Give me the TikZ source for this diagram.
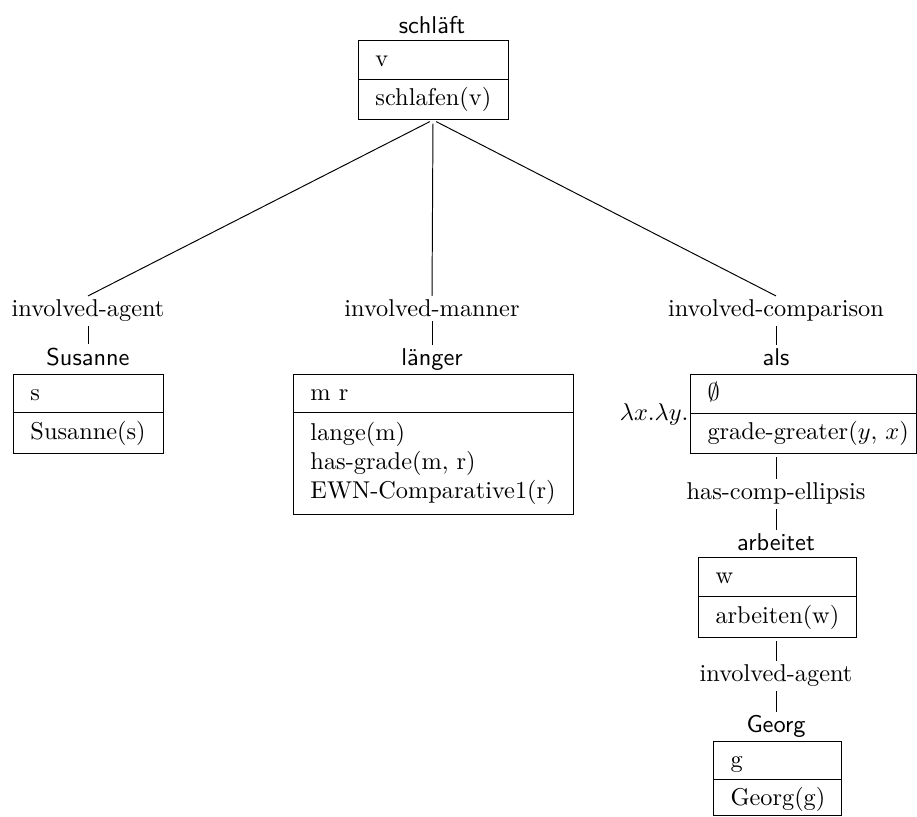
\documentclass[tikz,border=0pt]{standalone}
\usetikzlibrary{fit}
\begin{document}
\begin{tikzpicture}[x=0.411pt,y=-0.411pt,
  lab/.style={font=\sffamily, anchor=base, inner xsep=0pt, inner ysep=1.5pt, yshift=-0.8pt},
  rel/.style={anchor=base, inner xsep=0pt, inner ysep=1.5pt, yshift=-0.8pt},
  box/.style={draw, inner sep=0pt},
  txt/.style={anchor=base west, inner sep=0pt, yshift=-0.8pt},
  conn/.style={line width=0.4pt},
  fromBox/.style={conn, shorten <=1.5pt}]
\useasboundingbox (0,0) rectangle (917,816);

% --- schläft
\node[lab] (h1) at (432,32) {schläft};
\coordinate (b1a) at (358,40); \coordinate (b1b) at (508,119.5);
\node[box, fit=(b1a)(b1b)] (b1) {};
\draw (358,79) -- (508,79);
\node[txt] (b1t1) at (375,65) {v};
\node[txt] (b1t2) at (375,104) {schlafen(v)};

% --- relations level 1
\node[rel] (r1) at (88,315) {involved-agent};
\node[rel] (r2) at (432,315) {involved-manner};
\node[rel] (r3) at (776,315) {involved-comparison};
\draw[fromBox] (b1.south) -- (r1.north);
\draw[fromBox] (b1.south) -- (r2.north);
\draw[fromBox] (b1.south) -- (r3.north);

% --- Susanne
\node[lab] (h2) at (88,364) {Susanne};
\draw[conn] (r1.south) -- (h2.north);
\coordinate (b2a) at (13,374); \coordinate (b2b) at (163,453);
\node[box, fit=(b2a)(b2b)] (b2) {};
\draw (13,412) -- (163,412);
\node[txt] (b2t1) at (30,399) {s};
\node[txt] (b2t2) at (30,438) {Susanne(s)};

% --- länger
\node[lab] (h3) at (432,364) {länger};
\draw[conn] (r2.south) -- (h3.north);
\coordinate (b3a) at (293,374); \coordinate (b3b) at (573,514);
\node[box, fit=(b3a)(b3b)] (b3) {};
\draw (293,412) -- (573,412);
\node[txt] (b3t1) at (310,399) {m r};
\node[txt] (b3t2) at (310,439) {lange(m)};
\node[txt] (b3t3) at (310,468) {has-grade(m, r)};
\node[txt] (b3t4) at (310,497) {EWN-Comparative1(r)};

% --- als
\node[lab] (h4) at (776,364) {als};
\draw[conn] (r3.south) -- (h4.north);
\coordinate (b4a) at (690,374); \coordinate (b4b) at (916,453);
\node[box, fit=(b4a)(b4b)] (b4) {};
\draw (690,413) -- (916,413);
\node[anchor=base east, inner sep=0pt, yshift=-0.8pt] (lam) at (689,419) {$\lambda x.\lambda y.$};
\node[txt] (b4t1) at (707,399) {$\emptyset$};
\node[txt] (b4t2) at (707,438) {grade-greater($y$, $x$)};

% --- has-comp-ellipsis
\node[rel] (r4) at (776,498) {has-comp-ellipsis};
\draw[fromBox] (b4.south -| h4) -- (r4.north);

% --- arbeitet
\node[lab] (h5) at (776,549) {arbeitet};
\draw[conn] (r4.south) -- (h5.north);
\coordinate (b5a) at (698,557); \coordinate (b5b) at (856,637);
\node[box, fit=(b5a)(b5b)] (b5) {};
\draw (698,596) -- (856,596);
\node[txt] (b5t1) at (715,582) {w};
\node[txt] (b5t2) at (715,622) {arbeiten(w)};

% --- involved-agent (2)
\node[rel] (r5) at (776,680) {involved-agent};
\draw[fromBox] (b5.south -| h5) -- (r5.north);

% --- Georg
\node[lab] (h6) at (776,731) {Georg};
\draw[conn] (r5.south) -- (h6.north);
\coordinate (b6a) at (713,741); \coordinate (b6b) at (841,815.5);
\node[box, fit=(b6a)(b6b)] (b6) {};
\draw (713,779) -- (841,779);
\node[txt] (b6t1) at (730,766) {g};
\node[txt] (b6t2) at (730,804) {Georg(g)};
\end{tikzpicture}
\end{document}
